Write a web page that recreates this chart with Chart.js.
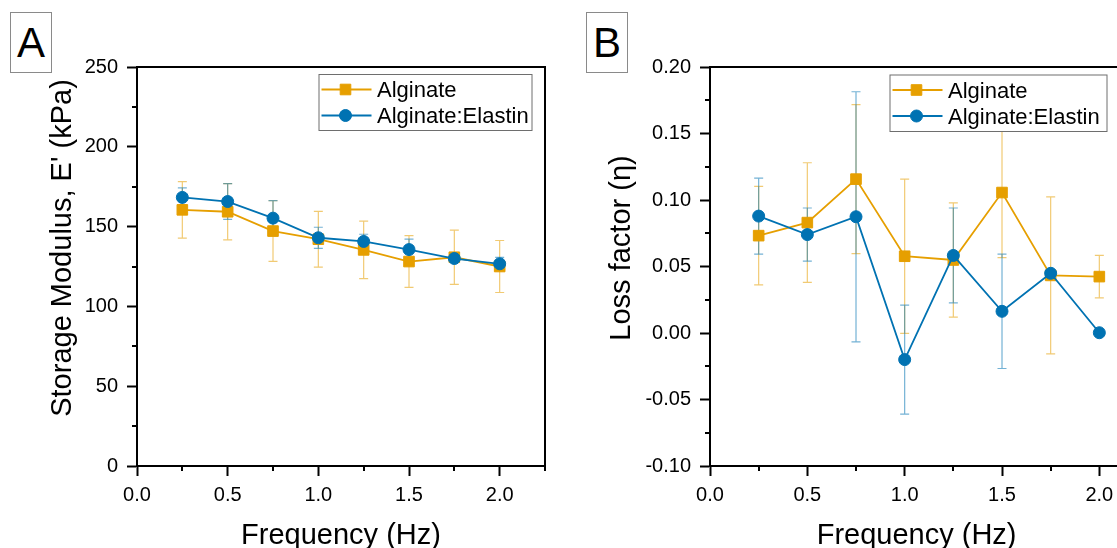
<!DOCTYPE html>
<html><head><meta charset="utf-8">
<script src="https://cdn.jsdelivr.net/npm/chart.js@4/dist/chart.umd.min.js"></script>
<style>
html,body{margin:0;padding:0;background:#fff;overflow:hidden;width:1117px;height:548px;position:relative;font-family:"Liberation Sans",Arial,sans-serif;}
#wa{position:absolute;left:0;top:0;width:560px;height:548px;}
#wb{position:absolute;left:560px;top:0;width:600px;height:548px;}
.pl{position:absolute;top:12px;width:40px;height:59px;border:1px solid #8a8a8a;font-size:42px;line-height:59px;text-align:center;color:#000;background:#fff;}
</style></head><body>
<div id="wa"><canvas id="ca" width="560" height="548"></canvas></div>
<div id="wb"><canvas id="cb" width="600" height="548"></canvas></div>
<div class="pl" style="left:10px">A</div>
<div class="pl" style="left:586px">B</div>
<script>
// ---- data ----
const frequency = [0.25, 0.5, 0.75, 1.0, 1.25, 1.5, 1.75, 2.0];
const seriesNames = ['Alginate', 'Alginate:Elastin'];

const storageAlginate     = [160.5, 159.3, 147.2, 142.1, 135.4, 128.1, 130.8, 125.0];
const storageAlginateErr  = [17.7, 17.6, 19.0, 17.5, 18.0, 16.2, 17.0, 16.3];
const storageElastin      = [168.3, 165.7, 155.3, 143.0, 140.7, 135.6, 130.0, 126.7];
const storageElastinErr   = [6.0, 11.2, 11.0, 6.6, 4.5, 6.5, 2.0, 4.0];

const lossAlginate        = [0.0732, 0.0830, 0.1157, 0.0577, 0.0549, 0.1056, 0.0433, 0.0424];
const lossAlginateErr     = [0.037, 0.045, 0.056, 0.058, 0.043, 0.049, 0.059, 0.016];
const lossElastin         = [0.0879, 0.0740, 0.0874, -0.0200, 0.0583, 0.0163, 0.0449, 0.0002];
const lossElastinErr      = [0.0286, 0.020, 0.094, 0.041, 0.0357, 0.043, 0.002, 0.001];

const xTickValues  = [0, 0.5, 1.0, 1.5, 2.0];
const yTicksA      = [0, 50, 100, 150, 200, 250];
const yTicksB      = [-0.10, -0.05, 0.00, 0.05, 0.10, 0.15, 0.20];

const xTitle  = 'Frequency (Hz)';
const yTitleA = "Storage Modulus, E' (kPa)";
const yTitleB = 'Loss factor (\u03B7)';

// ---- style ----
const ORANGE = 'rgb(230,159,0)';
const BLUE = 'rgb(0,114,178)';
const ORANGE_ERR = 'rgba(230,159,0,0.55)';
const BLUE_ERR = 'rgba(0,114,178,0.55)';
const FONT = '"Liberation Sans", Arial, sans-serif';
Chart.defaults.font.family = FONT;
Chart.defaults.color = '#000';

const decor = {
  id: 'decor',
  beforeDatasetsDraw(chart, args, o) {
    const ctx = chart.ctx, xs = chart.scales.x, ys = chart.scales.y;
    ctx.save();
    o.errors.forEach((errs, di) => {
      const ds = chart.data.datasets[di];
      ctx.strokeStyle = o.errColors[di];
      ctx.lineWidth = 1.2;
      ds.data.forEach((p, i) => {
        const e = errs[i];
        const px = xs.getPixelForValue(p.x);
        const y1 = ys.getPixelForValue(p.y + e), y2 = ys.getPixelForValue(p.y - e);
        ctx.beginPath();
        ctx.moveTo(px, y1); ctx.lineTo(px, y2);
        ctx.moveTo(px - 4.5, y1); ctx.lineTo(px + 4.5, y1);
        ctx.moveTo(px - 4.5, y2); ctx.lineTo(px + 4.5, y2);
        ctx.stroke();
      });
    });
    ctx.restore();
  },
  afterDraw(chart, args, o) {
    const ctx = chart.ctx, a = chart.chartArea, xs = chart.scales.x, ys = chart.scales.y;
    ctx.save();
    // frame (top and right)
    ctx.strokeStyle = '#000'; ctx.lineWidth = 2;
    ctx.beginPath();
    ctx.moveTo(a.left - 1, a.top); ctx.lineTo(a.right, a.top); ctx.lineTo(a.right, a.bottom + 1);
    ctx.stroke();
    // minor ticks
    ctx.beginPath();
    for (let v = xs.min; v <= xs.max + 1e-9; v += o.xMinor) {
      if (Math.abs(v / o.xMajor - Math.round(v / o.xMajor)) < 1e-6) continue;
      const px = Math.round(xs.getPixelForValue(v));
      ctx.moveTo(px, a.bottom); ctx.lineTo(px, a.bottom + 5);
    }
    for (let v = ys.min; v <= ys.max + 1e-9; v += o.yMinor) {
      if (Math.abs(v / o.yMajor - Math.round(v / o.yMajor)) < 1e-6) continue;
      const py = Math.round(ys.getPixelForValue(v));
      ctx.moveTo(a.left, py); ctx.lineTo(a.left - 5, py);
    }
    ctx.stroke();
    // legend
    const L = o.legend;
    ctx.fillStyle = '#fff';
    ctx.fillRect(L.x, L.y, L.w, L.h);
    ctx.strokeStyle = '#6e6e6e'; ctx.lineWidth = 1;
    ctx.strokeRect(L.x + 0.5, L.y + 0.5, L.w, L.h);
    chart.data.datasets.forEach((ds, i) => {
      const cy = L.y + 15.5 + i * 26;
      ctx.strokeStyle = ds.borderColor; ctx.lineWidth = 2;
      ctx.beginPath(); ctx.moveTo(L.x + 3, cy); ctx.lineTo(L.x + 53, cy); ctx.stroke();
      ctx.fillStyle = ds.backgroundColor; ctx.strokeStyle = ds.borderColor; ctx.lineWidth = 1;
      Chart.helpers.drawPoint(ctx, {pointStyle: ds.pointStyle, radius: ds.pointRadius, borderWidth: 1, rotation: 0}, L.x + 27, cy);
      ctx.fillStyle = '#000';
      ctx.font = '22px ' + FONT;
      ctx.textAlign = 'left'; ctx.textBaseline = 'alphabetic';
      ctx.fillText(ds.label, L.x + 58.5, L.y + 23 + i * 26);
    });
    // axis titles
    ctx.fillStyle = '#000';
    ctx.font = '29px ' + FONT;
    ctx.textAlign = 'center'; ctx.textBaseline = 'alphabetic';
    ctx.fillText(o.xTitle, o.xTitlePos[0], o.xTitlePos[1]);
    ctx.translate(o.yTitlePos[0], o.yTitlePos[1]);
    ctx.rotate(-Math.PI / 2);
    ctx.fillText(o.yTitle, 0, 0);
    ctx.restore();
  }
};

function makeChart(id, vals1, vals2, errs1, errs2, yTicks, yMin, yMax, yFmt, yWidth, padRight, opts) {
  const setTicks = (arr) => (scale) => { scale.ticks = arr.map(v => ({value: v})); };
  const axisCommon = {
    grid: {display: true, drawOnChartArea: false, drawTicks: true, tickLength: 10, tickWidth: 2, tickColor: '#000', color: '#000'},
    border: {display: true, color: '#000', width: 2},
  };
  return new Chart(document.getElementById(id), {
    type: 'line',
    data: {
      datasets: [
        {label: seriesNames[0], data: frequency.map((f, i) => ({x: f, y: vals1[i]})),
         borderColor: ORANGE, backgroundColor: ORANGE, borderWidth: 1.8, pointStyle: 'rect', pointRadius: 7.5,
         pointBorderWidth: 1, order: 1, tension: 0},
        {label: seriesNames[1], data: frequency.map((f, i) => ({x: f, y: vals2[i]})),
         borderColor: BLUE, backgroundColor: BLUE, borderWidth: 1.8, pointStyle: 'circle', pointRadius: 6,
         pointBorderWidth: 1, order: 0, tension: 0}
      ]
    },
    options: {
      responsive: false, animation: false, devicePixelRatio: 1,
      layout: {padding: {left: 0, top: 67, right: padRight, bottom: 0}},
      plugins: {
        legend: {display: false}, tooltip: {enabled: false},
        decor: Object.assign({errors: [errs1, errs2], errColors: [ORANGE_ERR, BLUE_ERR], xTitle: xTitle}, opts)
      },
      scales: {
        x: Object.assign({}, axisCommon, {
          type: 'linear', position: 'bottom', min: 0, max: 2.25,
          afterBuildTicks: setTicks(xTickValues),
          afterFit: (s) => { s.height = 82; },
          ticks: {font: {size: 20}, color: '#000', padding: 7, maxRotation: 0, autoSkip: false,
                  callback: (v) => Number(v).toFixed(1)}
        }),
        y: Object.assign({}, axisCommon, {
          type: 'linear', position: 'left', min: yMin, max: yMax,
          afterBuildTicks: setTicks(yTicks),
          afterFit: (s) => { s.width = yWidth; },
          ticks: {font: {size: 20}, color: '#000', padding: 9, autoSkip: false, callback: yFmt}
        })
      }
    },
    plugins: [decor]
  });
}

makeChart('ca', storageAlginate, storageElastin, storageAlginateErr, storageElastinErr,
  yTicksA, 0, 250, (v) => String(Math.round(v)), 137, 15,
  {xMinor: 0.25, xMajor: 0.5, yMinor: 25, yMajor: 50,
   legend: {x: 318.5, y: 74, w: 213, h: 56},
   xTitlePos: [341, 544], yTitlePos: [71, 248], yTitle: yTitleA});

makeChart('cb', lossAlginate, lossElastin, lossAlginateErr, lossElastinErr,
  yTicksB, -0.10, 0.20, (v) => Number(v).toFixed(2), 150, 12,
  {xMinor: 0.25, xMajor: 0.5, yMinor: 0.025, yMajor: 0.05,
   legend: {x: 329.5, y: 74.5, w: 217, h: 56.5},
   xTitlePos: [356.6, 544], yTitlePos: [70, 248], yTitle: yTitleB});
</script>
</body></html>
